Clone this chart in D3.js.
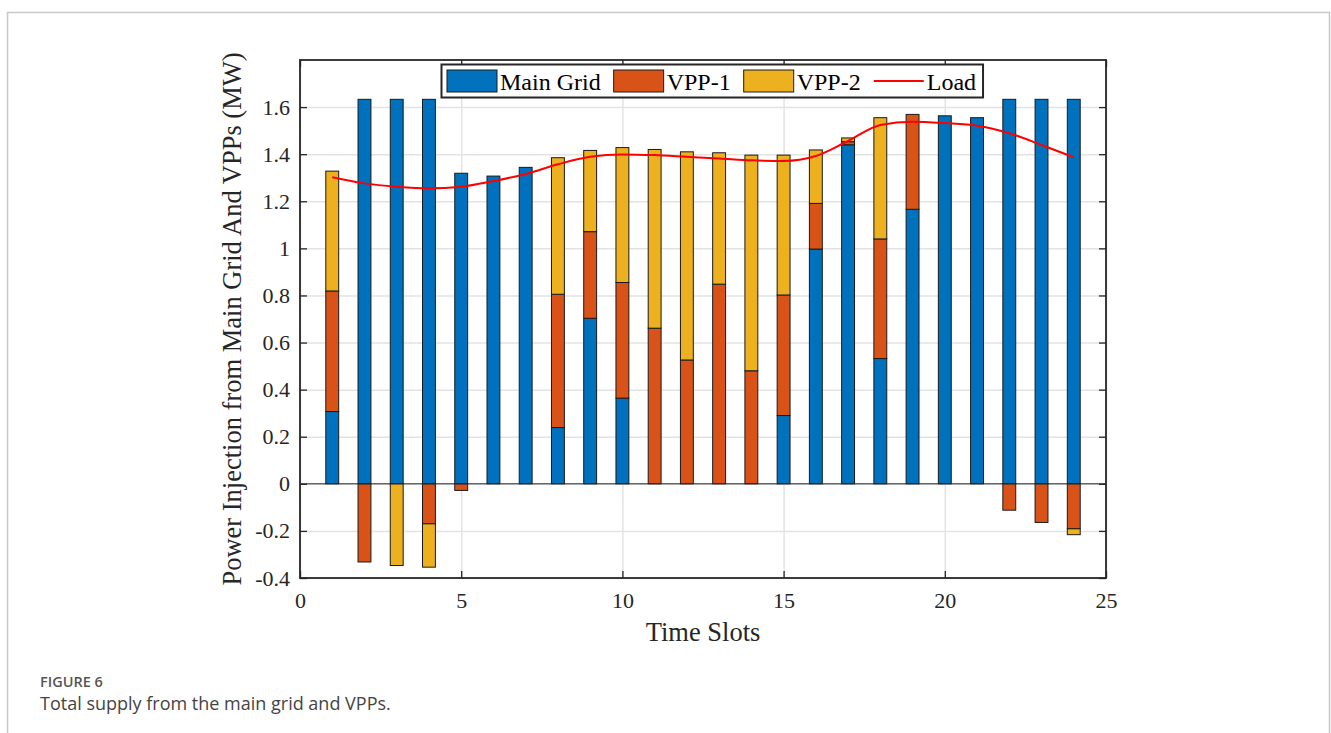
<!DOCTYPE html>
<html lang="en">
<head>
<meta charset="UTF-8">
<title>Total supply from the main grid and VPPs</title>
<style>
  body { margin: 0; background: #fff; }
  .tick text { font-family: "Liberation Serif", "Times New Roman", serif; font-size: 22px; fill: #262626; }
  .axis path { display: none; }
  .axis line { stroke: #262626; stroke-width: 1.3; }
  .grid line { stroke: #e3e3e3; stroke-width: 1.5; }
  .grid path { display: none; }
  .title { font-family: "Liberation Serif", "Times New Roman", serif; font-size: 26.5px; fill: #262626; }
  .legend text { font-family: "Liberation Serif", "Times New Roman", serif; font-size: 24px; fill: #000; }
</style>
<script src="https://d3js.org/d3.v7.min.js"></script>
</head>
<body>
<script>
// values (MW)
const slots = [1,2,3,4,5,6,7,8,9,10,11,12,13,14,15,16,17,18,19,20,21,22,23,24];
const mainGrid = [0.307,1.633,1.633,1.633,1.319,1.307,1.344,0.239,0.703,0.364,0,0,0,0,0.29,0.997,1.44,0.532,1.166,1.563,1.555,1.633,1.633,1.633];
const vpp1 = [0.512,-0.332,0,-0.17,-0.028,0,0,0.566,0.368,0.491,0.661,0.526,0.848,0.48,0.512,0.194,0.013,0.508,0.403,0,0,-0.112,-0.164,-0.191];
const vpp2 = [0.509,0,-0.347,-0.184,0,0,0,0.58,0.345,0.573,0.759,0.884,0.558,0.916,0.594,0.227,0.016,0.515,0,0,0,0,0,-0.025];
const load = [1.302,1.276,1.262,1.255,1.262,1.286,1.316,1.357,1.389,1.399,1.396,1.389,1.382,1.374,1.371,1.392,1.456,1.524,1.538,1.532,1.521,1.489,1.439,1.387];

const seriesNames = ["Main Grid", "VPP-1", "VPP-2"];
const seriesColors = ["#0072BD", "#D95319", "#EDB120"];
const xTicks = [0, 5, 10, 15, 20, 25];
const yTicks = [-0.4, -0.2, 0, 0.2, 0.4, 0.6, 0.8, 1, 1.2, 1.4, 1.6];

const W = 1331, H = 733;
const pL = 300, pR = 1106, pT = 60, pB = 578;

const svg = d3.select("body").append("svg")
  .attr("width", W).attr("height", H);

// outer page frame
svg.append("path")
  .attr("d", `M7.5,${H} V12.5 H1329.5 V${H}`)
  .attr("fill", "none").attr("stroke", "#c8c8c8").attr("stroke-width", 1.5);

const x = d3.scaleLinear().domain([0, 25]).range([pL, pR]);
const y = d3.scaleLinear().domain([-0.4, 1.8]).range([pB, pT]);
const barW = x(0.4) - x(0);

// grid
svg.append("g").attr("class", "grid")
  .attr("transform", `translate(${pL},0)`)
  .call(d3.axisLeft(y).tickValues(yTicks).tickSize(-(pR - pL)).tickFormat(""));
svg.append("g").attr("class", "grid")
  .attr("transform", `translate(0,${pB})`)
  .call(d3.axisBottom(x).tickValues(xTicks).tickSize(-(pB - pT)).tickFormat(""));

// stacked bars (positive up, negative down)
const rows = slots.map((s, i) => ({ slot: s, "Main Grid": mainGrid[i], "VPP-1": vpp1[i], "VPP-2": vpp2[i] }));
const stacked = d3.stack().keys(seriesNames).offset(d3.stackOffsetDiverging)(rows);

svg.selectAll("g.layer")
  .data(stacked)
  .enter().append("g")
  .attr("class", "layer")
  .attr("fill", (d, i) => seriesColors[i])
  .selectAll("rect")
  .data(d => d.filter(p => p[1] - p[0] !== 0))
  .enter().append("rect")
  .attr("x", d => x(d.data.slot) - barW / 2)
  .attr("y", d => y(Math.max(d[0], d[1])))
  .attr("width", barW)
  .attr("height", d => Math.abs(y(d[0]) - y(d[1])))
  .attr("stroke", "#1a1a1a")
  .attr("stroke-width", 1);

// baseline at zero
svg.append("line")
  .attr("x1", pL).attr("x2", pR)
  .attr("y1", y(0)).attr("y2", y(0))
  .attr("stroke", "#262626").attr("stroke-width", 1);

// load curve
const line = d3.line()
  .x((d, i) => x(slots[i]))
  .y(d => y(d))
  .curve(d3.curveMonotoneX);
svg.append("path")
  .datum(load)
  .attr("d", line)
  .attr("fill", "none")
  .attr("stroke", "#FF0000")
  .attr("stroke-width", 2);

// axes
const fmt = d => String(+d.toFixed(1));
const yl = svg.append("g").attr("class", "axis")
  .attr("transform", `translate(${pL},0)`)
  .call(d3.axisLeft(y).tickValues(yTicks).tickSizeInner(-7).tickSizeOuter(0).tickPadding(10).tickFormat(fmt));
yl.attr("font-size", null).attr("font-family", null);
svg.append("g").attr("class", "axis")
  .attr("transform", `translate(${pR},0)`)
  .call(d3.axisRight(y).tickValues(yTicks).tickSizeInner(-7).tickSizeOuter(0).tickFormat(""));
const xl = svg.append("g").attr("class", "axis")
  .attr("transform", `translate(0,${pB})`)
  .call(d3.axisBottom(x).tickValues(xTicks).tickSizeInner(-7).tickSizeOuter(0).tickPadding(14).tickFormat(d3.format("d")));
xl.attr("font-size", null).attr("font-family", null);
svg.append("g").attr("class", "axis")
  .attr("transform", `translate(0,${pT})`)
  .call(d3.axisTop(x).tickValues(xTicks).tickSizeInner(-7).tickSizeOuter(0).tickFormat(""));

// frame
svg.append("rect")
  .attr("x", pL).attr("y", pT)
  .attr("width", pR - pL).attr("height", pB - pT)
  .attr("fill", "none").attr("stroke", "#262626").attr("stroke-width", 1.8);

// axis titles
svg.append("text").attr("class", "title")
  .attr("x", (pL + pR) / 2).attr("y", 641)
  .attr("text-anchor", "middle")
  .text("Time Slots");
svg.append("text").attr("class", "title")
  .attr("transform", `translate(241,${(pT + pB) / 2}) rotate(-90)`)
  .attr("text-anchor", "middle")
  .text("Power Injection from Main Grid And VPPs (MW)");

// legend
const lg = svg.append("g").attr("class", "legend");
const lgBox = lg.append("rect")
  .attr("y", 64.5).attr("height", 33)
  .attr("fill", "#fff").attr("stroke", "#262626").attr("stroke-width", 2);
const items = seriesNames.concat(["Load"]);
let cx = 447;
items.forEach((name, i) => {
  if (i < 3) {
    lg.append("rect")
      .attr("x", cx).attr("y", 70).attr("width", 50).attr("height", 22)
      .attr("fill", seriesColors[i]).attr("stroke", "#1a1a1a").attr("stroke-width", 1);
  } else {
    lg.append("line")
      .attr("x1", cx).attr("x2", cx + 50).attr("y1", 81).attr("y2", 81)
      .attr("stroke", "#FF0000").attr("stroke-width", 2);
  }
  const t = lg.append("text").attr("x", cx + 53).attr("y", 89.5).text(name);
  cx += 53 + t.node().getComputedTextLength() + 13;
});
lgBox.attr("x", 441.5).attr("width", cx - 13 + 7 - 441.5);

// caption
svg.append("text")
  .attr("x", 40).attr("y", 686.5)
  .attr("font-family", "'Open Sans', sans-serif")
  .attr("font-size", 14.5).attr("font-weight", 600)
  .attr("fill", "#555")
  .text("FIGURE 6");
svg.append("text")
  .attr("x", 40).attr("y", 709.5)
  .attr("font-family", "'Open Sans', sans-serif")
  .attr("font-size", 18)
  .attr("fill", "#444")
  .text("Total supply from the main grid and VPPs.");
</script>
</body>
</html>
